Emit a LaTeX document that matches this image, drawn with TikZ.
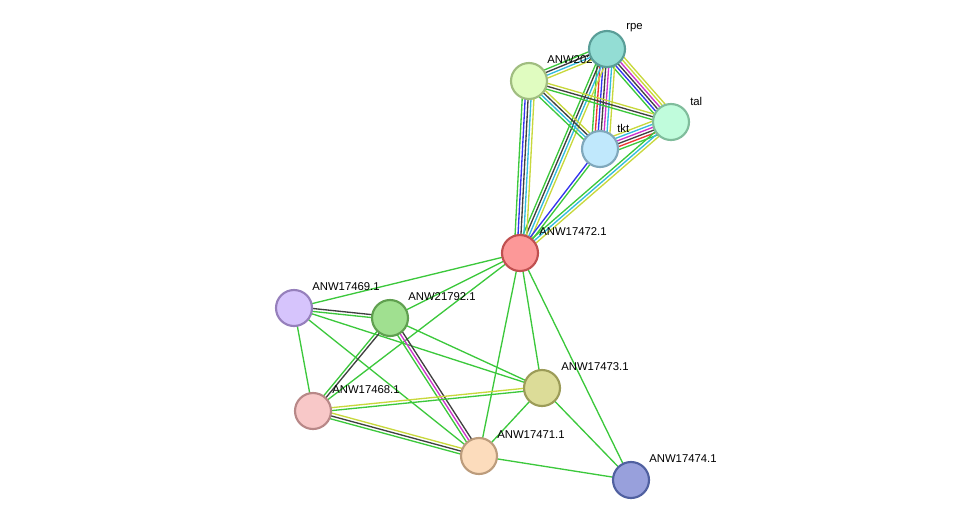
\documentclass[tikz,border=0pt]{standalone}
\usepackage{fontspec}
\setmainfont{Liberation Sans}
\usetikzlibrary{calc}
\definecolor{eg}{HTML}{3CC83C}
\definecolor{ek}{HTML}{404040}
\definecolor{eb}{HTML}{3333EE}
\definecolor{ec}{HTML}{33BBDD}
\definecolor{ey}{HTML}{C8D83C}
\definecolor{em}{HTML}{CC33CC}
\definecolor{er}{HTML}{EE3333}
% multi-coloured edge: from, to, number of lines, colours
\newcommand{\stredge}[4]{%
  \foreach \c [count=\i] in {#4}{%
    \pgfmathsetmacro{\off}{(\i-(#3+1)/2)*2.2}
    \draw[\c, line width=1pt] ($(#1)!\off pt!90:(#2)$) -- ($(#2)!\off pt!-90:(#1)$);
  }}
\begin{document}
\begin{tikzpicture}[x=0.75pt, y=-0.75pt,
prot/.style={circle, line width=1.6pt, minimum size=27pt, inner sep=0pt},
lab/.style={anchor=west, font=\fontsize{8.5}{9}\selectfont, inner sep=0pt}
]
\useasboundingbox (0,0) rectangle (975,526);
%Nodes (centres)
\coordinate (rpe) at (607,49);
\coordinate (n202) at (529,81);
\coordinate (tal) at (671,122);
\coordinate (tkt) at (600,149);
\coordinate (n472) at (520,253);
\coordinate (n469) at (294,308);
\coordinate (n792) at (390,318);
\coordinate (n473) at (542,388);
\coordinate (n468) at (313,411);
\coordinate (n471) at (479,456);
\coordinate (n474) at (631,480);
%Edges
\stredge{rpe}{n202}{4}{eg,ek,ec,ey}
\stredge{rpe}{tal}{6}{eg,eb,ek,em,ey,ey}
\stredge{rpe}{tkt}{7}{eg,er,eb,ek,em,ec,ey}
\stredge{rpe}{n472}{4}{eg,ek,ec,ey}
\stredge{n202}{tal}{3}{eg,ek,ey}
\stredge{n202}{tkt}{4}{eg,ec,ek,ey}
\stredge{n202}{n472}{5}{eg,eb,ek,ec,ey}
\stredge{tkt}{tal}{6}{eg,er,ek,em,ec,ey}
\stredge{tkt}{n472}{2}{eb,eg}
\stredge{tal}{n472}{3}{eg,ec,ey}
\stredge{n472}{n469}{1}{eg}
\stredge{n472}{n792}{1}{eg}
\stredge{n472}{n468}{1}{eg}
\stredge{n472}{n471}{1}{eg}
\stredge{n472}{n473}{1}{eg}
\stredge{n472}{n474}{1}{eg}
\stredge{n469}{n792}{2}{eg,ek}
\stredge{n469}{n468}{1}{eg}
\stredge{n469}{n471}{1}{eg}
\stredge{n469}{n473}{1}{eg}
\stredge{n792}{n468}{2}{eg,ek}
\stredge{n792}{n471}{3}{eg,em,ek}
\stredge{n792}{n473}{1}{eg}
\stredge{n468}{n473}{2}{eg,ey}
\stredge{n468}{n471}{3}{eg,ek,ey}
\stredge{n473}{n471}{1}{eg}
\stredge{n473}{n474}{1}{eg}
\stredge{n471}{n474}{1}{eg}
%Labels
\node[lab] (l202) at ($(n202)+(18,-21)$) {ANW20200.1};
\node[lab] (lrpe) at ($(rpe)+(19,-21)$) {rpe};
\node[lab] (ltal) at ($(tal)+(19,-21)$) {tal};
\node[lab] (ltkt) at ($(tkt)+(17,-21)$) {tkt};
\node[lab] (l472) at ($(n472)+(19,-21)$) {ANW17472.1};
\node[lab] (l469) at ($(n469)+(18,-21)$) {ANW17469.1};
\node[lab] (l792) at ($(n792)+(18,-21)$) {ANW21792.1};
\node[lab] (l473) at ($(n473)+(19,-21)$) {ANW17473.1};
\node[lab] (l468) at ($(n468)+(19,-21)$) {ANW17468.1};
\node[lab] (l471) at ($(n471)+(18,-21)$) {ANW17471.1};
\node[lab] (l474) at ($(n474)+(18,-21)$) {ANW17474.1};
%Circles
\node[prot, fill={rgb,255:red,224;green,252;blue,192}, draw={rgb,255:red,160;green,189;blue,128}] at (n202) {};
\node[prot, fill={rgb,255:red,147;green,221;blue,212}, draw={rgb,255:red,90;green,158;blue,152}] at (rpe) {};
\node[prot, fill={rgb,255:red,192;green,252;blue,220}, draw={rgb,255:red,128;green,189;blue,156}] at (tal) {};
\node[prot, fill={rgb,255:red,192;green,232;blue,252}, draw={rgb,255:red,128;green,168;blue,188}] at (tkt) {};
\node[prot, fill={rgb,255:red,252;green,152;blue,152}, draw={rgb,255:red,192;green,80;blue,80}] at (n472) {};
\node[prot, fill={rgb,255:red,214;green,196;blue,252}, draw={rgb,255:red,150;green,128;blue,188}] at (n469) {};
\node[prot, fill={rgb,255:red,160;green,224;blue,144}, draw={rgb,255:red,96;green,160;blue,80}] at (n792) {};
\node[prot, fill={rgb,255:red,220;green,220;blue,152}, draw={rgb,255:red,156;green,156;blue,88}] at (n473) {};
\node[prot, fill={rgb,255:red,248;green,200;blue,200}, draw={rgb,255:red,184;green,136;blue,136}] at (n468) {};
\node[prot, fill={rgb,255:red,252;green,220;blue,188}, draw={rgb,255:red,188;green,156;blue,124}] at (n471) {};
\node[prot, fill={rgb,255:red,152;green,160;blue,220}, draw={rgb,255:red,80;green,96;blue,160}] at (n474) {};
\end{tikzpicture}
\end{document}
